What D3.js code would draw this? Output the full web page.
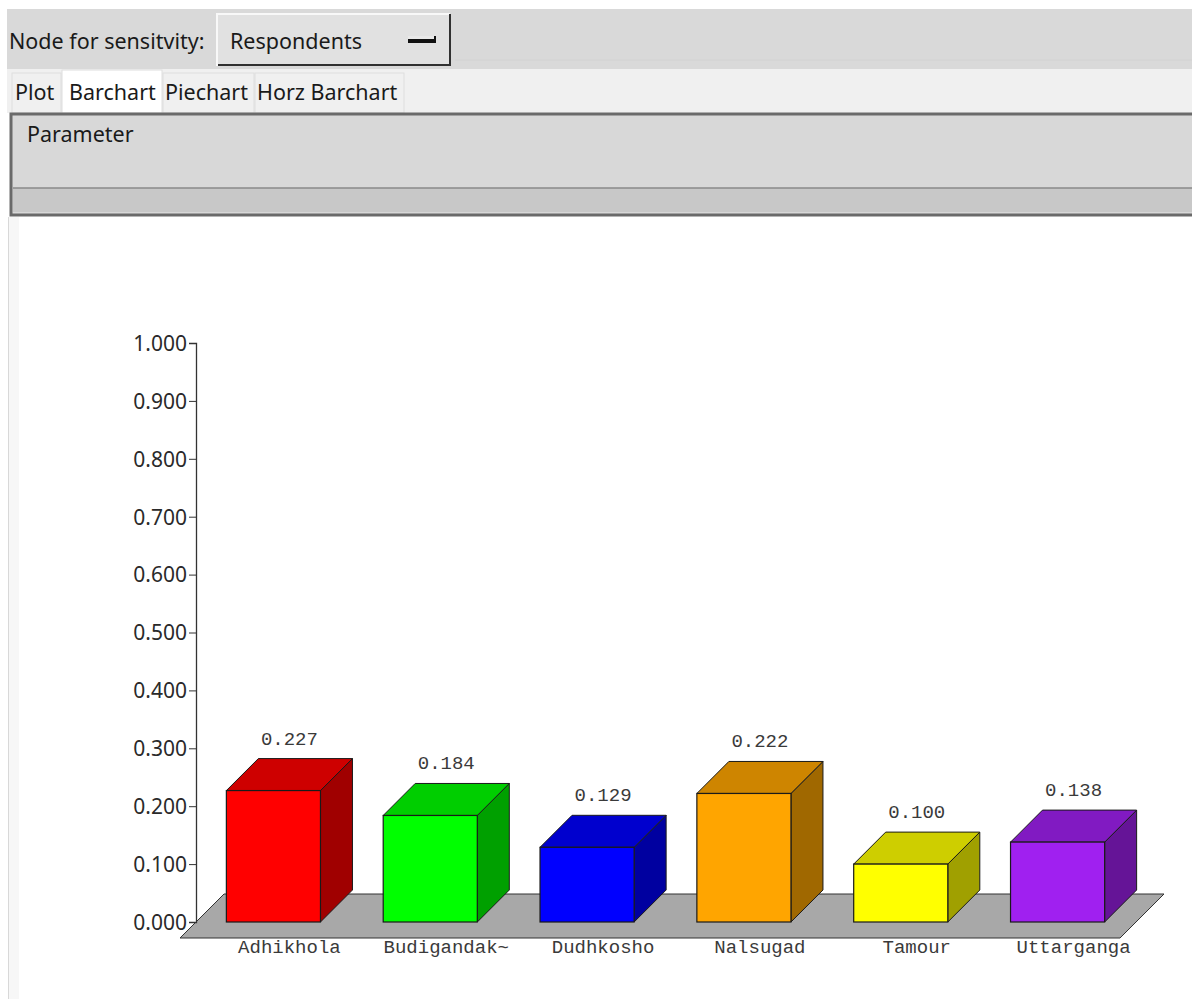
<!DOCTYPE html>
<html>
<head>
<meta charset="utf-8">
<script src="https://cdn.jsdelivr.net/npm/d3@7"></script>
<style>
  html, body { margin: 0; padding: 0; background: #ffffff; }
  svg { display: block; }
</style>
</head>
<body>
<script>
// ---------- data ----------
const categories = ["Adhikhola", "Budigandak~", "Dudhkosho", "Nalsugad", "Tamour", "Uttarganga"];
const values = [0.227, 0.184, 0.129, 0.222, 0.100, 0.138];
const frontColors = ["#ff0000", "#00ff00", "#0000ff", "#ffa500", "#ffff00", "#a020f0"];
const tickValues = [0, 0.1, 0.2, 0.3, 0.4, 0.5, 0.6, 0.7, 0.8, 0.9, 1.0];
const tabs = ["Plot", "Barchart", "Piechart", "Horz Barchart"];
const nodeLabel = "Node for sensitvity:";
const nodeValue = "Respondents";
const panelTitle = "Parameter";

// ---------- setup ----------
const W = 1192, H = 999;
const svg = d3.select("body").append("svg").attr("width", W).attr("height", H);
const uiFont = "'Noto Sans', 'Open Sans', sans-serif";
const monoFont = "'Courier New', 'Liberation Mono', monospace";
const uiSize = 21.5;

// ---------- window chrome ----------
svg.append("rect").attr("x", 7).attr("y", 9).attr("width", W - 7).attr("height", 60).attr("fill", "#d9d9d9");
svg.append("line").attr("x1", 455).attr("x2", W).attr("y1", 60).attr("y2", 60).attr("stroke", "#d2d2d2");
svg.append("text").attr("x", 9).attr("y", 49).attr("font-family", uiFont).attr("font-size", uiSize)
  .attr("fill", "#1a1a1a").text(nodeLabel);
// dropdown button
svg.append("rect").attr("x", 217).attr("y", 14).attr("width", 233).attr("height", 52).attr("fill", "#e1e1e1");
svg.append("path").attr("d", "M217,66 V14 H450").attr("fill", "none").attr("stroke", "#f8f8f8").attr("stroke-width", 2);
svg.append("path").attr("d", "M218,65 H450 V14").attr("fill", "none").attr("stroke", "#303030").attr("stroke-width", 2);
svg.append("text").attr("x", 230).attr("y", 49).attr("font-family", uiFont).attr("font-size", uiSize)
  .attr("fill", "#1a1a1a").text(nodeValue);
svg.append("rect").attr("x", 408).attr("y", 36).attr("width", 28).attr("height", 7).attr("fill", "#111");
svg.append("rect").attr("x", 408).attr("y", 36).attr("width", 26).attr("height", 3).attr("fill", "#e8e8e8");

// tab strip
svg.append("rect").attr("x", 7).attr("y", 69).attr("width", W - 7).attr("height", 44).attr("fill", "#f0f0f0");
const tabX = [12, 62, 163, 255, 405];
const tabTextX = [15, 69, 165, 257];
tabs.forEach((t, i) => {
  const sel = i === 1;
  svg.append("rect").attr("x", tabX[i]).attr("y", sel ? 70 : 73).attr("width", tabX[i + 1] - tabX[i] - 1)
    .attr("height", sel ? 43 : 40).attr("fill", sel ? "#ffffff" : "#f0f0f0")
    .attr("stroke", "#dedede").attr("stroke-width", 1);
  svg.append("text").attr("x", tabTextX[i]).attr("y", 100).attr("font-family", uiFont).attr("font-size", uiSize)
    .attr("fill", "#1a1a1a").text(t);
});

// parameter panel
svg.append("rect").attr("x", 11).attr("y", 114).attr("width", W).attr("height", 101)
  .attr("fill", "#d8d8d8").attr("stroke", "#6a6a6a").attr("stroke-width", 3);
svg.append("rect").attr("x", 13).attr("y", 188).attr("width", W).attr("height", 24).attr("fill", "#c8c8c8");
svg.append("line").attr("x1", 13).attr("x2", W).attr("y1", 188).attr("y2", 188).attr("stroke", "#8a8a8a").attr("stroke-width", 1.5);
svg.append("text").attr("x", 27).attr("y", 142).attr("font-family", uiFont).attr("font-size", uiSize)
  .attr("fill", "#1a1a1a").text(panelTitle);

// left faint edge of chart area
svg.append("rect").attr("x", 8).attr("y", 217).attr("width", 11).attr("height", H - 217).attr("fill", "#f7f7f7");
svg.append("line").attr("x1", 8.5).attr("x2", 8.5).attr("y1", 217).attr("y2", H).attr("stroke", "#d8d8d8");

// ---------- chart ----------
const y = d3.scaleLinear().domain([0, 1]).range([922, 343]);
const x = d3.scaleBand().domain(categories).range([195, 1136]).paddingInner(0.4).paddingOuter(0.2);
const dx = 32, dy = 32;     // bar depth
const fdx = 44, fdy = 44;   // floor depth

const y0 = y(0);
const fl = 180, fr = 1120;
// floor
svg.append("polygon")
  .attr("points", [[fl, y0 + 16], [fr, y0 + 16], [fr + fdx, y0 + 16 - fdy], [fl + fdx, y0 + 16 - fdy]].map(p => p.join(",")).join(" "))
  .attr("fill", "#a8a8a8").attr("stroke", "#333").attr("stroke-width", 1);

// axis
const axis = d3.axisLeft(y).tickValues(tickValues).tickFormat(d3.format(".3f")).tickSize(7).tickPadding(2);
const ag = svg.append("g").attr("transform", "translate(196,0)").call(axis);
ag.select(".domain").attr("stroke", "#333").attr("stroke-width", 1.3);
ag.selectAll(".tick line").attr("stroke", "#333");
ag.selectAll(".tick text").attr("font-family", uiFont).attr("font-size", 21).attr("fill", "#2a2a2a").attr("dy", "0.35em");

// bars
const bars = svg.append("g").selectAll("g").data(categories).join("g");
bars.each(function(c, i) {
  const g = d3.select(this);
  const x0 = x(c), x1 = x(c) + x.bandwidth();
  const yt = y(values[i]);
  const base = d3.color(frontColors[i]);
  const top = base.darker(0.6), side = base.darker(1.3);
  g.append("polygon")
    .attr("points", [[x1, y0], [x1, yt], [x1 + dx, yt - dy], [x1 + dx, y0 - dy]].map(p => p.join(",")).join(" "))
    .attr("fill", side).attr("stroke", "#1a1a1a").attr("stroke-width", 1).attr("stroke-linejoin", "round");
  g.append("polygon")
    .attr("points", [[x0, yt], [x1, yt], [x1 + dx, yt - dy], [x0 + dx, yt - dy]].map(p => p.join(",")).join(" "))
    .attr("fill", top).attr("stroke", "#1a1a1a").attr("stroke-width", 1).attr("stroke-linejoin", "round");
  g.append("rect").attr("x", x0).attr("y", yt).attr("width", x.bandwidth()).attr("height", y0 - yt)
    .attr("fill", base).attr("stroke", "#1a1a1a").attr("stroke-width", 1.2);
  g.append("text").attr("x", (x0 + x1) / 2 + dx / 2).attr("y", yt - dy - 14)
    .attr("text-anchor", "middle").attr("font-family", monoFont).attr("font-size", 19)
    .attr("fill", "#3a3a3a").text(d3.format(".3f")(values[i]));
  g.append("text").attr("x", (x0 + x1) / 2 + dx / 2).attr("y", y0 + 31)
    .attr("text-anchor", "middle").attr("font-family", monoFont).attr("font-size", 19)
    .attr("fill", "#3a3a3a").text(c);
});
</script>
</body>
</html>
